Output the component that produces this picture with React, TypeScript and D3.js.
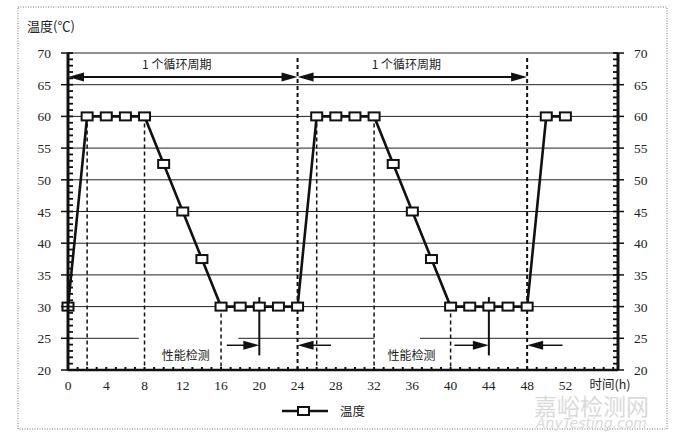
import React from "react";
import * as d3 from "d3";

// Temperature cycle profile: hours vs °C
const hours = [0, 2, 4, 6, 8, 10, 12, 14, 16, 18, 20, 22, 24, 26, 28, 30, 32, 34, 36, 38, 40, 42, 44, 46, 48, 50, 52];
const temps = [30, 60, 60, 60, 60, 52.5, 45, 37.5, 30, 30, 30, 30, 30, 60, 60, 60, 60, 52.5, 45, 37.5, 30, 30, 30, 30, 30, 60, 60];

const xTicks = [0, 4, 8, 12, 16, 20, 24, 28, 32, 36, 40, 44, 48, 52];
const yTicks = [20, 25, 30, 35, 40, 45, 50, 55, 60, 65, 70];

// Cycle boundaries (h) and the temperature each dashed guide starts from
const guideHours = [2, 8, 16, 24, 26, 32, 40, 48];
const guideTops = [60, 60, 30, 69.2, 60, 60, 30, 69.2];

const cycleStarts = [0, 24];
const cycleEnds = [24, 48];
const cycleLabel = "1 个循环周期";

// Performance-test windows: start of arrow, test moment, cycle end, arrow tail
const testAt = [20, 44];
const testFrom = [16.6, 40.4];
const testEnd = [24, 48];
const testTail = [27.5, 51.7];
const testLabelAt = [12.3, 35.9];
const testLabel = "性能检测";

const seriesName = "温度";
const yTitle = "温度(℃)";
const xTitle = "时间(h)";

const W = 680;
const H = 441;
const left = 68;
const right = 618;
const top = 53;
const bottom = 370;

const serif = "'Liberation Serif', 'DejaVu Serif', serif";
const cjk = "'Noto Sans CJK SC', 'Noto Sans', sans-serif";

export default function App() {
  const x = d3.scaleLinear().domain([0, 57.5]).range([left, right]);
  const y = d3.scaleLinear().domain([20, 70]).range([bottom, top]);

  const line = d3
    .line<number>()
    .x((_, i) => x(hours[i]))
    .y((d) => y(d));

  const minorY = d3.range(20, 71, 1);
  const minorX = d3.range(0, 58, 1);

  const arrowHead = (tipX: number, tipY: number, dir: 1 | -1, len = 12, hw = 4) =>
    `M${tipX},${tipY} L${tipX - dir * len},${tipY - hw} L${tipX - dir * len},${tipY + hw} Z`;

  const y25 = y(25);
  const gridSegs25: [number, number][] = [
    [0, 7.4],
    [17.8, 32],
    [36.8, 57.5],
  ];

  const cycY = 77;
  const testY = y(23.9);

  return (
    <svg
      width={W}
      height={H}
      style={{ position: "absolute", left: 0, top: 0, background: "#fff" }}
    >
      {/* outer dotted frame */}
      <rect
        x={18}
        y={7}
        width={649}
        height={422}
        fill="none"
        stroke="#777"
        strokeWidth={1}
        strokeDasharray="1 1.5"
      />

      {/* horizontal gridlines */}
      {yTicks
        .filter((t) => t !== 20 && t !== 25)
        .map((t) => (
          <line key={t} x1={left} x2={right} y1={y(t)} y2={y(t)} stroke="#222" strokeWidth={1} />
        ))}
      {gridSegs25.map(([a, b], i) => (
        <line key={"g25" + i} x1={x(a)} x2={x(b)} y1={y25} y2={y25} stroke="#222" strokeWidth={1} />
      ))}

      {/* dashed cycle guides */}
      {guideHours.map((h, i) => (
        <line
          key={"gd" + h}
          x1={x(h)}
          x2={x(h)}
          y1={y(guideTops[i])}
          y2={bottom}
          stroke="#111"
          strokeWidth={h % 24 === 0 ? 2 : 1.5}
          strokeDasharray="4 3"
        />
      ))}

      {/* cycle span arrows */}
      {cycleStarts.map((s, i) => {
        const x0 = x(s);
        const x1 = x(cycleEnds[i]);
        return (
          <g key={"cy" + i}>
            <line x1={x0 + 6} x2={x1 - 6} y1={cycY} y2={cycY} stroke="#111" strokeWidth={2} />
            <path d={arrowHead(x0, cycY, -1, 16, 4.5)} fill="#111" />
            <path d={arrowHead(x1, cycY, 1, 16, 4.5)} fill="#111" />
            <text
              x={(x0 + x1) / 2 - 6}
              y={cycY - 8}
              textAnchor="middle"
              fontFamily={cjk}
              fontSize={12}
              fill="#222"
            >
              {cycleLabel}
            </text>
          </g>
        );
      })}

      {/* performance-test markers */}
      {testAt.map((t, i) => (
        <g key={"ts" + i}>
          <line x1={x(t)} x2={x(t)} y1={y(31.5)} y2={y(22.3)} stroke="#111" strokeWidth={2} />
          <line x1={x(testFrom[i])} x2={x(t) - 8} y1={testY} y2={testY} stroke="#111" strokeWidth={1.5} />
          <path d={arrowHead(x(t), testY, 1, 16, 4.5)} fill="#111" />
          <line x1={x(testEnd[i]) + 8} x2={x(testTail[i])} y1={testY} y2={testY} stroke="#111" strokeWidth={1.5} />
          <path d={arrowHead(x(testEnd[i]), testY, -1, 16, 4.5)} fill="#111" />
          <text
            x={x(testLabelAt[i])}
            y={y(22.4) + 5}
            textAnchor="middle"
            fontFamily={cjk}
            fontSize={12}
            fill="#222"
          >
            {testLabel}
          </text>
        </g>
      ))}

      {/* data line and markers */}
      <path d={line(temps) ?? ""} fill="none" stroke="#111" strokeWidth={2.6} />
      {temps.map((v, i) => (
        <rect
          key={"m" + i}
          x={x(hours[i]) - 5.5}
          y={y(v) - 4}
          width={11}
          height={8}
          fill="#fff"
          stroke="#111"
          strokeWidth={2}
        />
      ))}

      {/* axes */}
      <line x1={left} x2={left} y1={top} y2={bottom} stroke="#111" strokeWidth={3} />
      <line x1={right} x2={right} y1={top} y2={bottom} stroke="#111" strokeWidth={3} />
      <line x1={left} x2={right} y1={bottom} y2={bottom} stroke="#111" strokeWidth={2.5} />

      {minorY.map((t) => (
        <g key={"my" + t}>
          <line x1={left} x2={left + 5} y1={y(t)} y2={y(t)} stroke="#111" strokeWidth={1.8} />
          <line x1={right - 5} x2={right} y1={y(t)} y2={y(t)} stroke="#111" strokeWidth={1.8} />
        </g>
      ))}
      {yTicks.map((t) => (
        <g key={"My" + t}>
          <line x1={left - 7} x2={left} y1={y(t)} y2={y(t)} stroke="#111" strokeWidth={1.5} />
          <line x1={right} x2={right + 6} y1={y(t)} y2={y(t)} stroke="#111" strokeWidth={1.5} />
          <text x={51} y={y(t) + 5} textAnchor="end" fontFamily={serif} fontSize={13.5} fill="#222">
            {t}
          </text>
          <text x={634} y={y(t) + 5} textAnchor="start" fontFamily={serif} fontSize={13.5} fill="#222">
            {t}
          </text>
        </g>
      ))}
      {minorX.map((t) => (
        <line key={"mx" + t} x1={x(t)} x2={x(t)} y1={bottom - 3} y2={bottom + 1} stroke="#111" strokeWidth={2} />
      ))}
      {xTicks.map((t) => (
        <text key={"xt" + t} x={x(t)} y={390} textAnchor="middle" fontFamily={serif} fontSize={13.5} fill="#222">
          {t}
        </text>
      ))}

      {/* axis titles */}
      <text x={27} y={31} fontFamily={cjk} fontSize={13} fill="#222">
        {yTitle}
      </text>
      <text x={610} y={389} textAnchor="middle" fontFamily={cjk} fontSize={12.5} fill="#222">
        {xTitle}
      </text>

      {/* legend */}
      <line x1={282} x2={328} y1={411} y2={411} stroke="#111" strokeWidth={2.5} />
      <rect x={298} y={407} width={11} height={8} fill="#fff" stroke="#111" strokeWidth={2} />
      <text x={340} y={416} fontFamily={cjk} fontSize={12.5} fill="#222">
        {seriesName}
      </text>

      {/* watermark */}
      <text x={534} y={415} fontFamily={cjk} fontSize={23} fill="#d4d4d4" opacity={0.85}>
        嘉峪检测网
      </text>
      <text x={536} y={428} fontFamily="'DejaVu Sans', sans-serif" fontStyle="italic" fontSize={14} fill="#d4d4d4" opacity={0.85}>
        AnyTesting.com
      </text>
    </svg>
  );
}
